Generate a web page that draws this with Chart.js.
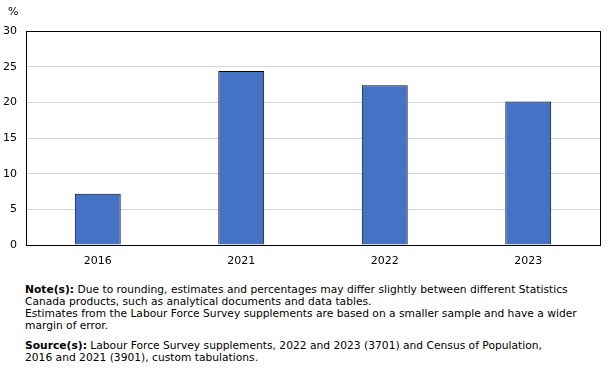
<!DOCTYPE html>
<html>
<head>
<meta charset="utf-8">
<script src="https://cdn.jsdelivr.net/npm/chart.js@4"></script>
<style>
  body { margin: 0; background: #fff; width: 611px; height: 376px; overflow: hidden; position: relative; font-family: "DejaVu Sans", Verdana, sans-serif; color: #000; }
  #wrap { position: absolute; left: 0; top: 0; width: 611px; height: 270px; }
  #unit { position: absolute; left: 8px; top: 5px; font-size: 11px; }
  #notes { position: absolute; left: 25px; top: 284px; width: 580px; white-space: nowrap; font-family: "DejaVu Sans", Verdana, sans-serif; font-size: 10.7px; line-height: 12px; }
  #notes p { margin: 0; }
  #notes .src { margin-top: 8px; }
</style>
</head>
<body>
<div id="wrap"><canvas id="chart"></canvas></div>
<div id="unit">%</div>
<div id="notes">
  <p><b>Note(s):</b> Due to rounding, estimates and percentages may differ slightly between different Statistics<br>Canada products, such as analytical documents and data tables.</p>
  <p>Estimates from the Labour Force Survey supplements are based on a smaller sample and have a wider<br>margin of error.</p>
  <p class="src"><b>Source(s):</b> Labour Force Survey supplements, 2022 and 2023 (3701) and Census of Population,<br>2016 and 2021 (3901), custom tabulations.</p>
</div>
<script>
// --- 資料 ---
const years = ['2016', '2021', '2022', '2023'];
const values = [7.2, 24.4, 22.4, 20.1];
const yTicks = [0, 5, 10, 15, 20, 25, 30];

// 外框 (上、右)
const frame = {
  id: 'frame',
  afterDraw(chart) {
    const a = chart.chartArea;
    const c = chart.ctx;
    c.save();
    c.strokeStyle = '#000';
    c.lineWidth = 1;
    c.strokeRect(Math.round(a.left) + 0.5, Math.round(a.top) + 0.5, Math.round(a.right - a.left), Math.round(a.bottom - a.top));
    c.restore();
  }
};

new Chart(document.getElementById('chart'), {
  type: 'bar',
  data: {
    labels: years,
    datasets: [{
      data: values,
      backgroundColor: '#4472C4',
      borderColor: '#000',
      borderWidth: 1,
      categoryPercentage: 1,
      barPercentage: 0.32
    }]
  },
  options: {
    responsive: true,
    maintainAspectRatio: false,
    animation: false,
    layout: { padding: { left: 0, right: 11, top: 31, bottom: 0 } },
    plugins: { legend: { display: false }, tooltip: { enabled: false } },
    scales: {
      x: {
        grid: { display: false },
        border: { color: '#000' },
        ticks: { color: '#000', font: { family: 'DejaVu Sans', size: 11 }, padding: 2 },
        afterFit(s) { s.height = 25; }
      },
      y: {
        min: 0, max: 30,
        afterBuildTicks(s) { s.ticks = yTicks.map(v => ({ value: v })); },
        grid: { color: '#d9d9d9', drawTicks: false },
        border: { color: '#000' },
        ticks: { color: '#000', font: { family: 'DejaVu Sans', size: 11 }, padding: 9 },
        afterFit(s) { s.width = 26; }
      }
    }
  },
  plugins: [frame]
});
</script>
</body>
</html>
